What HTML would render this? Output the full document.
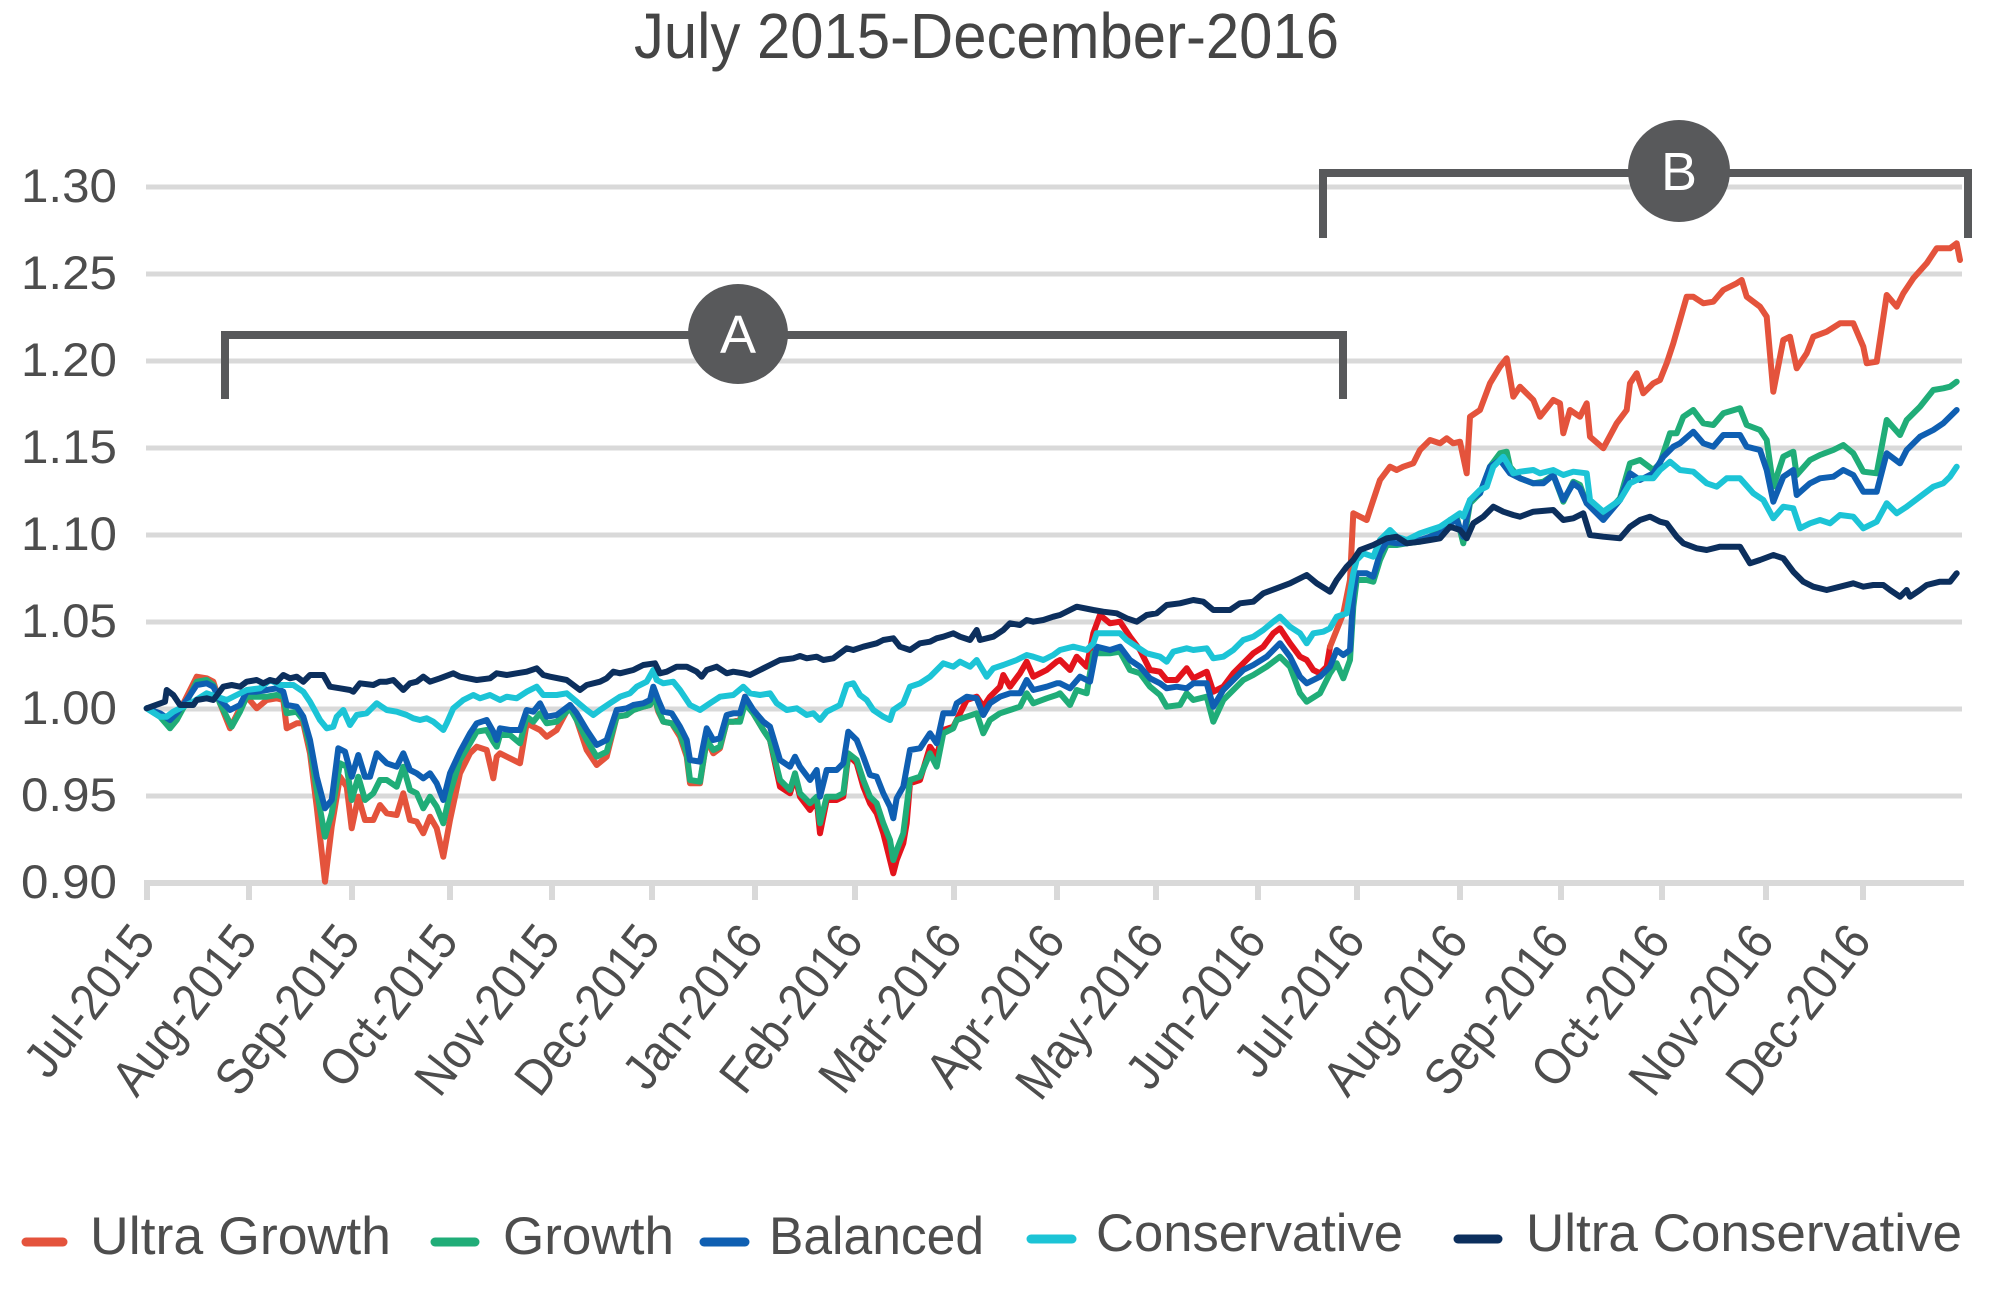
<!DOCTYPE html>
<html><head><meta charset="utf-8"><style>
html,body{margin:0;padding:0;background:#fff;}
svg{display:block;}
text{font-family:"Liberation Sans",Arial,sans-serif;}
</style></head><body>
<svg xmlns="http://www.w3.org/2000/svg" width="2000" height="1303" viewBox="0 0 2000 1303">
<rect width="2000" height="1303" fill="#fff"/>
<text x="634" y="58" font-size="64" fill="#454545" textLength="705" lengthAdjust="spacingAndGlyphs">July 2015-December-2016</text>
<g stroke="#d9d9d9" stroke-width="5">
<line x1="146" y1="187" x2="1962" y2="187"/>
<line x1="146" y1="274" x2="1962" y2="274"/>
<line x1="146" y1="361" x2="1962" y2="361"/>
<line x1="146" y1="448" x2="1962" y2="448"/>
<line x1="146" y1="535" x2="1962" y2="535"/>
<line x1="146" y1="622" x2="1962" y2="622"/>
<line x1="146" y1="709" x2="1962" y2="709"/>
<line x1="146" y1="796" x2="1962" y2="796"/>
<line x1="144" y1="883" x2="1964" y2="883" stroke-width="6"/>
</g>
<g stroke="#d9d9d9" stroke-width="6">
<line x1="147" y1="883" x2="147" y2="900"/><line x1="249" y1="883" x2="249" y2="900"/><line x1="352" y1="883" x2="352" y2="900"/><line x1="450" y1="883" x2="450" y2="900"/><line x1="552" y1="883" x2="552" y2="900"/><line x1="652" y1="883" x2="652" y2="900"/><line x1="755" y1="883" x2="755" y2="900"/><line x1="855" y1="883" x2="855" y2="900"/><line x1="954" y1="883" x2="954" y2="900"/><line x1="1057" y1="883" x2="1057" y2="900"/><line x1="1156" y1="883" x2="1156" y2="900"/><line x1="1258" y1="883" x2="1258" y2="900"/><line x1="1357" y1="883" x2="1357" y2="900"/><line x1="1460" y1="883" x2="1460" y2="900"/><line x1="1561" y1="883" x2="1561" y2="900"/><line x1="1662" y1="883" x2="1662" y2="900"/><line x1="1766" y1="883" x2="1766" y2="900"/><line x1="1863" y1="883" x2="1863" y2="900"/>
</g>
<g font-size="47" fill="#4d4d4d" text-anchor="end">
<text x="117" y="202" textLength="96" lengthAdjust="spacingAndGlyphs">1.30</text>
<text x="117" y="289" textLength="96" lengthAdjust="spacingAndGlyphs">1.25</text>
<text x="117" y="376" textLength="96" lengthAdjust="spacingAndGlyphs">1.20</text>
<text x="117" y="463" textLength="96" lengthAdjust="spacingAndGlyphs">1.15</text>
<text x="117" y="550" textLength="96" lengthAdjust="spacingAndGlyphs">1.10</text>
<text x="117" y="637" textLength="96" lengthAdjust="spacingAndGlyphs">1.05</text>
<text x="117" y="724" textLength="96" lengthAdjust="spacingAndGlyphs">1.00</text>
<text x="117" y="811" textLength="96" lengthAdjust="spacingAndGlyphs">0.95</text>
<text x="117" y="898" textLength="96" lengthAdjust="spacingAndGlyphs">0.90</text>
</g>
<g font-size="51" fill="#4d4d4d" text-anchor="end">
<text transform="translate(157,942) rotate(-52)" textLength="176" lengthAdjust="spacingAndGlyphs">Jul-2015</text>
<text transform="translate(259,942) rotate(-52)" textLength="199" lengthAdjust="spacingAndGlyphs">Aug-2015</text>
<text transform="translate(362,942) rotate(-52)" textLength="199" lengthAdjust="spacingAndGlyphs">Sep-2015</text>
<text transform="translate(460,942) rotate(-52)" textLength="189" lengthAdjust="spacingAndGlyphs">Oct-2015</text>
<text transform="translate(562,942) rotate(-52)" textLength="199" lengthAdjust="spacingAndGlyphs">Nov-2015</text>
<text transform="translate(662,942) rotate(-52)" textLength="199" lengthAdjust="spacingAndGlyphs">Dec-2015</text>
<text transform="translate(765,942) rotate(-52)" textLength="191" lengthAdjust="spacingAndGlyphs">Jan-2016</text>
<text transform="translate(865,942) rotate(-52)" textLength="196" lengthAdjust="spacingAndGlyphs">Feb-2016</text>
<text transform="translate(964,942) rotate(-52)" textLength="196" lengthAdjust="spacingAndGlyphs">Mar-2016</text>
<text transform="translate(1067,942) rotate(-52)" textLength="189" lengthAdjust="spacingAndGlyphs">Apr-2016</text>
<text transform="translate(1166,942) rotate(-52)" textLength="204" lengthAdjust="spacingAndGlyphs">May-2016</text>
<text transform="translate(1268,942) rotate(-52)" textLength="191" lengthAdjust="spacingAndGlyphs">Jun-2016</text>
<text transform="translate(1367,942) rotate(-52)" textLength="176" lengthAdjust="spacingAndGlyphs">Jul-2016</text>
<text transform="translate(1470,942) rotate(-52)" textLength="199" lengthAdjust="spacingAndGlyphs">Aug-2016</text>
<text transform="translate(1571,942) rotate(-52)" textLength="199" lengthAdjust="spacingAndGlyphs">Sep-2016</text>
<text transform="translate(1672,942) rotate(-52)" textLength="189" lengthAdjust="spacingAndGlyphs">Oct-2016</text>
<text transform="translate(1776,942) rotate(-52)" textLength="199" lengthAdjust="spacingAndGlyphs">Nov-2016</text>
<text transform="translate(1873,942) rotate(-52)" textLength="199" lengthAdjust="spacingAndGlyphs">Dec-2016</text>
</g>
<g fill="none" stroke-width="6" stroke-linejoin="round" stroke-linecap="round">
<polyline stroke="#e4533c" points="146.7,708.3 160,715 170,726.7 176.7,716.7 186.7,696.7 196.7,676.7 206.7,678.3 213.3,681.7 220,703.3 230,728.3 240,708.3 246.7,696.7 256.7,708.3 266.7,700 276.7,698.3 283.3,700 286.7,728.3 296.7,723.3 303.3,723.3 310,753.3 316.7,806.7 325,881.7 331.7,826.7 340,776.7 346.7,786.7 351.7,828.3 358.3,796.7 365,820 373.3,820 380,805 386.7,813.3 396.7,815 403.3,793.3 410,820 416.7,821.7 423.3,833.3 430,816.7 436.7,828.3 443.3,856.7 450,820 460,773.3 470,753.3 476.7,746.7 486.7,750 493.3,778.3 496.7,756.7 500,753.3 510,758.3 520,763.3 526.7,723.3 533.3,726.7 540,730 546.7,736.7 556.7,730 570,705 576.7,720 586.7,750 596.7,765 606.7,756.7 616.7,716.7 626.7,715 633.3,710 643.3,706.7 650,705 653.3,693.3 658.3,711.7 663.3,721.7 671.7,723.3 680,736.7 686.7,756.7 690,783.3 700,783.3 706.7,740 713.3,753.3 720,748.3 726.7,721.7 733.3,721.7 740,720 745,696.7 753.3,713.3 763.3,730 770,740"/>
<polyline stroke="#e3141c" points="770,740 780,786.7 790,793.3 795,776.7 800,796.7 810,810 816.7,800 820,833.3 826.7,800 836.7,800 843.3,796.7 848.3,755 856.7,763.3 863.3,786.7 870,803.3 876.7,813.3 883.3,833.3 890,860 893.3,873.3 896.7,860 903.3,843.3 906.7,823.3 910,783.3 920,780 930,746.7 936.7,756.7 943.3,730 953.3,726.7 956.7,720 966.7,700 976.7,696.7 983.3,706.7 990,696.7 1000,686.7 1003.3,675 1010,686.7 1020,673.3 1026.7,661.7 1033.3,676.7 1046.7,670 1056.7,661.7 1060,660 1070,670 1076.7,656.7 1086.7,666.7 1093.3,633.3 1100,615 1110,623.3 1120,621.7 1130,636.7 1140,650 1150,670 1160,671.7 1166.7,680 1176.7,680 1186.7,668.3 1193.3,678.3 1206.7,671.7 1213.3,691.7 1223.3,686.7 1233.3,673.3 1243.3,663.3 1253.3,653.3 1263.3,646.7 1273.3,633.3 1280,628.3 1290,643.3 1300,656.7 1306.7,660 1313.3,670 1320,673.3 1326.7,666.7 1330,646.7"/>
<polyline stroke="#e4533c" points="1330,646.7 1336.7,630 1343.3,613.3 1350,580 1353.3,513.3 1360,516.7 1366.7,520 1373.3,500 1380,480 1390,466.7 1396.7,470 1403.3,466.7 1413.3,463.3 1420,450 1430,440 1440,443.3 1446.7,438.3 1453.3,443.3 1460,441.7 1466.7,473.3 1470,416.7 1480,410 1490,383.3 1500,366.7 1506.7,358.3 1513.3,396.7 1520,386.7 1533.3,400 1540,416.7 1553.3,400 1560,403.3 1563.3,433.3 1570,410 1580,416.7 1586.7,403.3 1590,436.7 1603.3,448.3 1616.7,423.3 1626.7,410 1630,383.3 1636.7,373.3 1643.3,393.3 1653.3,383.3 1660,380 1666.7,363.3 1673.3,343.3 1680,320 1686.7,296.7 1693.3,296.7 1703.3,303.3 1713.3,301.7 1723.3,290 1736.7,283.3 1741.7,280 1746.7,296.7 1760,306.7 1766.7,316.7 1773.3,391.7 1783.3,340 1790,336.7 1796.7,368.3 1806.7,353.3 1813.3,336.7 1826.7,331.7 1840,323.3 1853.3,323.3 1863.3,346.7 1866.7,363.3 1876.7,361.7 1886.7,295 1896.7,306.7 1903.3,293.3 1913.3,278.3 1926.7,263.3 1936.7,248.3 1950,248.3 1956.7,243.3 1960,260"/>
<polyline stroke="#20ad78" points="146.7,708.3 160,716.7 170,728.3 176.7,720 186.7,701.7 196.7,681.7 206.7,680 213.3,685 220,703.3 231.7,726.7 240,711.7 246.7,696.7 256.7,696.7 266.7,696.7 276.7,695 283.3,696.7 286.7,713.3 296.7,711.7 303.3,720 310,746.7 316.7,790 325,836.7 331.7,813.3 340,763.3 346.7,766.7 351.7,800 358.3,776.7 365,800 373.3,793.3 380,780 386.7,780 396.7,786.7 403.3,766.7 410,790 416.7,793.3 423.3,808.3 430,796.7 436.7,806.7 443.3,823.3 450,793.3 460,760 470,743.3 476.7,731.7 486.7,730 493.3,741.7 496.7,746.7 500,735 510,735 520,743.3 526.7,716.7 533.3,721.7 540,713.3 546.7,723.3 556.7,721.7 570,708.3 576.7,720 586.7,740 596.7,756.7 606.7,751.7 616.7,716.7 626.7,715 633.3,710 643.3,706.7 650,705 653.3,693.3 658.3,710 663.3,721.7 671.7,723.3 680,733.3 686.7,753.3 690,780 700,781.7 706.7,740 713.3,750 720,746.7 726.7,721.7 733.3,721.7 740,721.7 745,703.3 753.3,713.3 763.3,730 770,740 780,780 790,790 795,773.3 800,793.3 810,803.3 816.7,796.7 820,823.3 826.7,796.7 836.7,796.7 843.3,793.3 848.3,753.3 856.7,760 863.3,780 870,796.7 876.7,803.3 883.3,823.3 890,840 893.3,860 896.7,850 903.3,833.3 910,780 920,776.7 930,753.3 936.7,766.7 943.3,733.3 953.3,728.3 956.7,720 966.7,716.7 976.7,713.3 983.3,733.3 990,720 1000,713.3 1010,710 1020,706.7 1026.7,693.3 1033.3,703.3 1046.7,698.3 1056.7,695 1060,693.3 1070,705 1076.7,690 1086.7,693.3 1093.3,653.3 1110,653.3 1120,651.7 1130,670 1140,673.3 1150,686.7 1160,695 1166.7,706.7 1180,705 1186.7,693.3 1193.3,700 1206.7,696.7 1213.3,721.7 1223.3,700 1233.3,690 1243.3,680 1253.3,675 1266.7,666.7 1280,656.7 1290,666.7 1300,693.3 1306.7,701.7 1320,693.3 1330,673.3 1336.7,663.3 1343.3,678.3 1350,660 1353.3,606.7 1356.7,580 1366.7,580 1373.3,581.7 1380,560 1386.7,545 1396.7,545 1406.7,543.3 1420,541.7 1430,536.7 1440,530 1450,520 1456.7,516.7 1463.3,543.3 1470,503.3 1480,493.3 1490,466.7 1500,453.3 1506.7,451.7 1510,466.7 1520,478.3 1533.3,483.3 1543.3,481.7 1553.3,475 1563.3,501.7 1573.3,481.7 1580,485 1586.7,503.3 1603.3,516.7 1620,498.3 1630,463.3 1640,460 1653.3,470 1660,463.3 1670,433.3 1676.7,433.3 1683.3,416.7 1693.3,410 1703.3,423.3 1713.3,425 1723.3,413.3 1740,408.3 1746.7,425 1760,430 1766.7,440 1773.3,486.7 1783.3,456.7 1793.3,451.7 1796.7,475 1810,460 1820,455 1833.3,450 1843.3,445 1853.3,453.3 1863.3,471.7 1876.7,473.3 1886.7,420 1900,435 1906.7,420 1920,406.7 1933.3,390 1943.3,388.3 1950,386.7 1956.7,381.7"/>
<polyline stroke="#0f5fb2" points="146.7,708.3 160,713.3 170,720 176.7,713.3 186.7,700 196.7,685 206.7,683.3 213.3,686.7 220,700 230,710 240,705 246.7,691.7 256.7,691.7 266.7,690 276.7,688.3 283.3,691.7 286.7,705 296.7,706.7 303.3,716.7 310,740 316.7,776.7 325,808.3 331.7,800 338.3,748.3 345,751.7 351.7,776.7 358.3,755 365,776.7 370,776.7 376.7,753.3 386.7,763.3 396.7,766.7 403.3,753.3 410,770 416.7,773.3 423.3,778.3 430,773.3 436.7,783.3 443.3,800 450,773.3 460,751.7 470,733.3 476.7,723.3 486.7,720 493.3,731.7 496.7,740 500,728.3 510,730 520,730 526.7,710 533.3,711.7 540,703.3 546.7,716.7 556.7,715 570,705 576.7,713.3 586.7,730 596.7,745 606.7,740 616.7,710 626.7,708.3 633.3,705 643.3,703.3 650,700 653.3,686.7 658.3,700 663.3,711.7 671.7,713.3 680,726.7 686.7,740 690,760 700,761.7 706.7,728.3 713.3,740 720,738.3 726.7,715 733.3,713.3 740,713.3 745,696.7 753.3,710 763.3,721.7 770,726.7 780,760 790,766.7 795,756.7 800,766.7 810,780 816.7,770 820,796.7 826.7,770 836.7,770 843.3,763.3 848.3,731.7 856.7,740 863.3,756.7 870,775 876.7,776.7 883.3,793.3 890,806.7 893.3,818.3 896.7,798.3 903.3,786.7 910,750 920,748.3 930,733.3 936.7,743.3 943.3,713.3 953.3,713.3 956.7,703.3 966.7,696.7 976.7,698.3 983.3,715 990,703.3 1000,696.7 1010,693.3 1020,693.3 1026.7,680 1033.3,690 1046.7,686.7 1056.7,683.3 1060,683.3 1070,688.3 1080,676.7 1090,681.7 1096.7,646.7 1110,650 1120,646.7 1130,660 1140,666.7 1150,678.3 1160,683.3 1166.7,688.3 1176.7,686.7 1186.7,688.3 1193.3,683.3 1206.7,683.3 1213.3,706.7 1223.3,690 1233.3,680 1243.3,670 1253.3,665 1266.7,656.7 1280,643.3 1290,656.7 1300,676.7 1306.7,683.3 1320,676.7 1330,666.7 1336.7,650 1343.3,655 1350,650 1353.3,593.3 1356.7,573.3 1366.7,573.3 1373.3,576.7 1380,553.3 1386.7,541.7 1396.7,543.3 1406.7,543.3 1420,540 1430,536.7 1440,533.3 1450,523.3 1456.7,520 1463.3,536.7 1470,500 1480,493.3 1490,466.7 1500,460 1510,473.3 1520,478.3 1533.3,483.3 1543.3,483.3 1553.3,475 1563.3,500 1573.3,483.3 1580,488.3 1586.7,503.3 1603.3,520 1620,500 1630,473.3 1640,480 1653.3,473.3 1663.3,456.7 1673.3,446.7 1680,443.3 1693.3,431.7 1703.3,443.3 1713.3,446.7 1723.3,435 1740,435 1746.7,446.7 1760,450 1766.7,470 1773.3,501.7 1783.3,476.7 1793.3,470 1796.7,495 1810,483.3 1820,478.3 1833.3,476.7 1843.3,470 1853.3,475 1863.3,491.7 1876.7,491.7 1886.7,453.3 1900,463.3 1906.7,450 1920,436.7 1933.3,430 1943.3,423.3 1956.7,410"/>
<polyline stroke="#1cc4d6" points="146.7,708.3 160,716.7 166.7,716.7 173.3,711.7 183.3,706.7 193.3,701.7 206.7,693.3 216.7,696.7 226.7,700 236.7,695 246.7,690 260,688.3 270,680 280,685 293.3,685 303.3,691.7 310,701.7 320,720 326.7,728.3 333.3,726.7 336.7,716.7 343.3,710 350,725 356.7,715 366.7,713.3 376.7,703.3 386.7,710 396.7,711.7 406.7,715 413.3,718.3 420,720 426.7,718.3 433.3,721.7 443.3,730 446.7,723.3 453.3,708.3 463.3,700 473.3,695 480,698.3 490,695 500,700 506.7,696.7 516.7,698.3 526.7,691.7 536.7,686.7 543.3,695 556.7,695 566.7,693.3 576.7,701.7 586.7,710 593.3,715 600,710 610,703.3 620,696.7 630,693.3 636.7,686.7 646.7,681.7 653.3,670 656.7,680 663.3,683.3 673.3,681.7 680,690 690,705 700,710 710,703.3 720,696.7 733.3,695 743.3,686.7 750,693.3 760,695 770,693.3 776.7,703.3 786.7,710 796.7,708.3 806.7,715 813.3,713.3 820,720 826.7,711.7 840,705 846.7,685 853.3,683.3 860,695 866.7,700 873.3,710 883.3,716.7 890,720 893.3,710 903.3,703.3 910,686.7 920,683.3 930,676.7 936.7,670 943.3,663.3 953.3,666.7 960,661.7 970,666.7 976.7,660 986.7,676.7 993.3,668.3 1003.3,665 1016.7,660 1026.7,655 1033.3,656.7 1043.3,660 1053.3,655 1060,650 1073.3,646.7 1086.7,650 1093.3,643.3 1096.7,633.3 1110,633.3 1120,633.3 1126.7,640 1136.7,646.7 1146.7,653.3 1160,656.7 1166.7,661.7 1173.3,651.7 1186.7,648.3 1193.3,650 1206.7,648.3 1213.3,658.3 1223.3,656.7 1233.3,650 1243.3,640 1253.3,636.7 1263.3,630 1273.3,621.7 1280,616.7 1290,626.7 1300,633.3 1306.7,643.3 1313.3,633.3 1323.3,631.7 1330,628.3 1336.7,616.7 1346.7,613.3 1353.3,573.3 1356.7,560 1363.3,553.3 1373.3,556.7 1380,540 1390,530 1396.7,536.7 1406.7,540 1420,533.3 1430,530 1440,526.7 1450,520 1460,513.3 1463.3,516.7 1470,500 1480,490 1486.7,486.7 1493.3,466.7 1503.3,456.7 1513.3,473.3 1520,471.7 1533.3,470 1540,473.3 1553.3,470 1563.3,475 1573.3,471.7 1586.7,473.3 1590,500 1603.3,511.7 1620,500 1630,483.3 1640,478.3 1653.3,478.3 1660,470 1670,461.7 1680,470 1693.3,471.7 1706.7,483.3 1716.7,486.7 1726.7,478.3 1740,478.3 1753.3,493.3 1763.3,500 1773.3,518.3 1783.3,506.7 1793.3,508.3 1800,528.3 1810,523.3 1820,520 1830,523.3 1840,515 1853.3,516.7 1863.3,528.3 1876.7,521.7 1886.7,503.3 1896.7,513.3 1906.7,506.7 1920,496.7 1933.3,486.7 1943.3,483.3 1950,476.7 1956.7,466.7"/>
<polyline stroke="#0c2f5d" points="146.7,708.3 165,701.7 166.7,690 173.3,695 180,705 193.3,705 196.7,700 206.7,698.3 213.3,700 223.3,686.7 231.7,685 240,686.7 246.7,681.7 256.7,680 263.3,683.3 270,680 276.7,681.7 283.3,675 290,678.3 296.7,676.7 303.3,681.7 310,675 323.3,675 330,686.7 340,688.3 350,690 353.3,691.7 360,683.3 373.3,685 380,681.7 386.7,681.7 393.3,680 403.3,690 410,683.3 416.7,681.7 423.3,676.7 430,681.7 440,678.3 453.3,673.3 460,676.7 476.7,680 490,678.3 496.7,673.3 506.7,675 516.7,673.3 526.7,671.7 536.7,668.3 543.3,675 550,676.7 566.7,680 580,690 586.7,685 600,681.7 606.7,678.3 613.3,671.7 620,673.3 633.3,670 643.3,665 655,663.3 660,673.3 666.7,671.7 676.7,666.7 686.7,666.7 696.7,671.7 701.7,676.7 706.7,670 716.7,666.7 726.7,673.3 733.3,671.7 743.3,673.3 750,675 760,670 770,665 780,660 793.3,658.3 800,656 806.7,658.3 816.7,656.7 823.3,660 833.3,658.3 846.7,648.3 853.3,650 863.3,646.7 876.7,643.3 883.3,640 893.3,638.3 900,646.7 910,650 920,643.3 930,641.7 936.7,638.3 943.3,636.7 953.3,633.3 960,636.7 970,640 976.7,630 980,640 993.3,636.7 1003.3,630 1010,623.3 1020,625 1026.7,620 1033.3,621.7 1043.3,620 1053.3,616.7 1060,615 1076.7,606.7 1093.3,610 1103.3,611.7 1116.7,613.3 1126.7,618.3 1136.7,621.7 1146.7,615 1156.7,613.3 1166.7,605 1180,603.3 1193.3,600 1203.3,601.7 1213.3,610 1230,610 1240,603.3 1253.3,601.7 1263.3,593.3 1276.7,588.3 1290,583.3 1306.7,575 1316.7,583.3 1330,591.7 1336.7,580 1346.7,566.7 1353.3,560 1360,550 1373.3,545 1386.7,538.3 1396.7,536.7 1406.7,543.3 1420,541.7 1430,540 1440,538.3 1450,526.7 1460,530 1466.7,538.3 1473.3,523.3 1483.3,516.7 1493.3,506.7 1503.3,511.7 1513.3,515 1520,516.7 1533.3,511.7 1553.3,510 1563.3,520 1573.3,518.3 1583.3,513.3 1590,535 1603.3,536.7 1620,538.3 1630,526.7 1640,520 1650,516.7 1660,521.7 1666.7,523.3 1676.7,536.7 1683.3,543.3 1696.7,548.3 1706.7,550 1720,546.7 1740,546.7 1750,563.3 1760,560 1773.3,555 1783.3,558.3 1793.3,571.7 1803.3,581.7 1813.3,586.7 1826.7,590 1840,586.7 1853.3,583.3 1863.3,586.7 1873.3,585 1883.3,585 1890,590 1900,596.7 1906.7,590 1910,596.7 1920,590 1926.7,585 1940,581.7 1950,581.7 1956.7,573.3"/>
</g>
<g fill="none" stroke="#58595b" stroke-width="8" stroke-linejoin="miter">
<path d="M225,399 V335 H1343 V399"/>
<path d="M1323,238 V173 H1968 V238"/>
</g>
<circle cx="738" cy="334" r="50" fill="#58595b"/>
<circle cx="1679" cy="171" r="51" fill="#58595b"/>
<text x="738" y="353" font-size="54" fill="#fff" text-anchor="middle">A</text>
<text x="1679" y="190" font-size="54" fill="#fff" text-anchor="middle">B</text>
<g stroke-width="9" stroke-linecap="round">
<line x1="26" y1="1242" x2="63" y2="1242" stroke="#e4533c"/>
<line x1="435" y1="1242" x2="475" y2="1242" stroke="#20ad78"/>
<line x1="704" y1="1242" x2="745" y2="1242" stroke="#0f5fb2"/>
<line x1="1031" y1="1239" x2="1072" y2="1239" stroke="#1cc4d6"/>
<line x1="1458" y1="1239" x2="1498" y2="1239" stroke="#0c2f5d"/>
</g>
<g font-size="53" fill="#4d4d4d">
<text x="90" y="1254" textLength="301" lengthAdjust="spacingAndGlyphs">Ultra Growth</text>
<text x="503" y="1254" textLength="171" lengthAdjust="spacingAndGlyphs">Growth</text>
<text x="769" y="1254" textLength="215" lengthAdjust="spacingAndGlyphs">Balanced</text>
<text x="1096" y="1251" textLength="307" lengthAdjust="spacingAndGlyphs">Conservative</text>
<text x="1526" y="1251" textLength="436" lengthAdjust="spacingAndGlyphs">Ultra Conservative</text>
</g>
</svg>
</body></html>
